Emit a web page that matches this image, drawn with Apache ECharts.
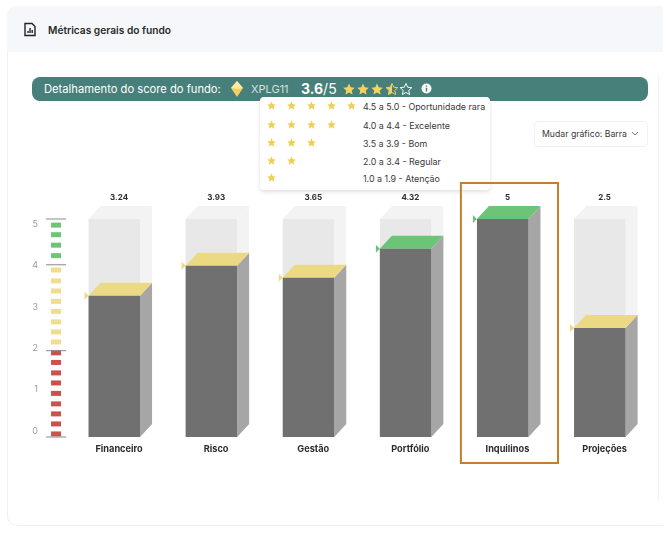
<!DOCTYPE html>
<html>
<head>
<meta charset="utf-8">
<script src="https://cdn.jsdelivr.net/npm/echarts@6/dist/echarts.min.js"></script>
<style>
  html, body { margin: 0; padding: 0; background: #fff; }
  body { width: 672px; height: 537px; position: relative; overflow: hidden; font-family: Inter, "Noto Sans", sans-serif; color: #2b2b2b; }
  .abs { position: absolute; white-space: nowrap; }
  #card { left: 7px; top: 6px; width: 656px; height: 520px; border: 1px solid #eff0f3; border-right: 0; border-radius: 10px 0 0 10px; box-sizing: border-box; }
  #cardHead { left: 7px; top: 6px; width: 656px; height: 46px; background: #f6f7fa; border-radius: 10px 0 0 0; }
  #title { left: 48px; top: 23px; font-size: 10.2px; font-weight: 600; line-height: 14px; }
  #innerLine { left: 658px; top: 75px; width: 1px; height: 425px; background: #f1f2f4; }
  #pill { left: 32px; top: 77px; width: 616px; height: 24px; background: #47807a; border-radius: 8px; }
  .onPill { color: #fff; line-height: 24px; top: 77px; }
  #dropdown { left: 534px; top: 121px; width: 114px; height: 26px; box-sizing: border-box; border: 1px solid #eff0f3; border-radius: 5px; font-size: 8.7px; line-height: 25px; padding-left: 7px; color: #3a3a3a; }
  #popup { left: 260px; top: 97px; width: 230px; height: 93px; background: #fff; border-radius: 4px; box-shadow: 0 2px 4px rgba(0,0,0,.12); }
  .rowText { left: 363px; font-size: 8.9px; line-height: 12px; color: #3a3a3a; }
  #chart { position: absolute; left: 0; top: 0; width: 672px; height: 537px; }
</style>
</head>
<body>
<div class="abs" id="card"></div>
<div class="abs" id="cardHead"></div>
<svg class="abs" style="left:23px;top:22px" width="14" height="15" viewBox="0 0 14 15" fill="none" stroke="#222" stroke-width="1.4">
  <path d="M2 1.5h7l3 3v9H2z"/><path d="M5 11V9M7 11V6M9.2 11V8"/>
</svg>
<div class="abs" id="title">Métricas gerais do fundo</div>
<div class="abs" id="innerLine"></div>

<div class="abs" id="pill"></div>
<div class="abs onPill" style="left:44px;font-size:11.2px">Detalhamento do score do fundo:</div>
<svg class="abs" style="left:231px;top:81px" width="12" height="16" viewBox="0 0 12 16">
  <path d="M6 0L12 7L6 16L0 7Z" fill="#f3cf5e"/><path d="M6 0L12 7L6 8L0 7Z" fill="#fbe9a6"/>
</svg>
<div class="abs onPill" style="left:251px;font-size:11px;opacity:.75">XPLG11</div>
<div class="abs onPill" style="left:301px;font-size:14px"><b>3.6</b>/5</div>
<div class="abs" id="scoreStars"></div>
<svg class="abs" style="left:421px;top:83px" width="11" height="11" viewBox="0 0 11 11">
  <circle cx="5.5" cy="5.5" r="5" fill="#fff"/><path d="M5.5 2.4v1.4M5.5 4.8v3.6" stroke="#47807a" stroke-width="1.5"/>
</svg>

<div class="abs" id="dropdown">Mudar gráfico: Barra</div>
<svg class="abs" style="left:631px;top:131px" width="8" height="6" viewBox="0 0 8 6" fill="none" stroke="#777">
  <path d="M1 1l3 3 3-3"/>
</svg>

<div class="abs" id="popup"></div>
<div id="popupRows"></div>
<div id="chart"></div>

<script>
// dados do gráfico
const categories = ['Financeiro', 'Risco', 'Gestão', 'Portfólio', 'Inquilinos', 'Projeções']
const scores = [3.24, 3.93, 3.65, 4.32, 5, 2.5]
const scoreMax = [5, 5, 5, 5, 5, 5]
const highlighted = ['Inquilinos']
const axisTicks = [0, 1, 2, 3, 4, 5]

// régua da esquerda
const redDashes = [0.07, 0.3, 0.53, 0.76, 1.0, 1.24, 1.47, 1.71, 1.93]
const yellowDashes = [2.18, 2.41, 2.64, 2.88, 3.11, 3.35, 3.58, 3.83]
const greenDashes = [4.16, 4.4, 4.64, 4.86]
const rulerLines = [0, 1.98, 3.95, 5]

// legenda das estrelas
const ratingLabels = ['4.5 a 5.0 - Oportunidade rara', '4.0 a 4.4 - Excelente', '3.5 a 3.9 - Bom', '2.0 a 3.4 - Regular', '1.0 a 1.9 - Atenção']
const ratingStars = [5, 4, 3, 2, 1]

const STAR = 'M5 0.4L6.4 3.5L9.8 3.9L7.3 6.2L8 9.6L5 7.9L2 9.6L2.7 6.2L0.2 3.9L3.6 3.5Z'

function starSvg(x, y, size, fill) {
  return `<svg class="abs" style="left:${x}px;top:${y}px" width="${size}" height="${size}" viewBox="0 0 10 10"><path d="${STAR}" fill="${fill}"/></svg>`
}

let popupHtml = ''
const rowY = [106, 125, 143, 161, 178]
ratingLabels.forEach((label, i) => {
  popupHtml += `<div class="abs rowText" style="top:${rowY[i] - 5}px">${label}</div>`
  for (let s = 0; s < ratingStars[i]; s++) {
    popupHtml += starSvg(267 + s * 20, rowY[i] - 5, 9, '#f0cf55')
  }
})
document.getElementById('popupRows').innerHTML = popupHtml

// 3.5 estrelas na barra
let starsHtml = ''
for (let s = 0; s < 5; s++) {
  const x = 343 + s * 14.2
  if (s < 3) {
    starsHtml += starSvg(x, 83, 12, '#f3d25f')
  } else if (s === 3) {
    starsHtml += `<svg class="abs" style="left:${x}px;top:83px" width="12" height="12" viewBox="0 0 10 10"><defs><clipPath id="half"><rect width="5" height="10"/></clipPath></defs><path d="${STAR}" fill="none" stroke="#f3d25f" stroke-width=".8"/><path d="${STAR}" fill="#f3d25f" clip-path="url(#half)"/></svg>`
  } else {
    starsHtml += `<svg class="abs" style="left:${x}px;top:83px" width="12" height="12" viewBox="0 0 10 10"><path d="${STAR}" fill="none" stroke="#fff" stroke-width=".8"/></svg>`
  }
}
document.getElementById('scoreStars').innerHTML = starsHtml

const BAR_W = 51.5
const BAR_SHIFT = 30.5
const DEPTH_X = 12
const DEPTH_Y = 13

function topColor(v) {
  if (v >= 4) return '#6cc576'
  if (v >= 2) return '#ecd983'
  return '#c9534c'
}

function prism(x, yTop, yBase, front, side, top) {
  const poly = (points, fill) => ({ type: 'polygon', shape: { points }, style: { fill }, silent: true })
  return [
    poly([[x + BAR_W, yBase], [x + BAR_W + DEPTH_X, yBase - DEPTH_Y], [x + BAR_W + DEPTH_X, yTop - DEPTH_Y], [x + BAR_W, yTop]], side),
    poly([[x, yTop], [x + DEPTH_X, yTop - DEPTH_Y], [x + BAR_W + DEPTH_X, yTop - DEPTH_Y], [x + BAR_W, yTop]], top),
    { type: 'rect', shape: { x, y: yTop, width: BAR_W, height: yBase - yTop }, style: { fill: front }, silent: true },
  ]
}

function renderGhost(params, api) {
  const p = api.coord([api.value(0), api.value(1)])
  const base = api.coord([api.value(0), 0])
  return { type: 'group', children: prism(p[0] - BAR_SHIFT, p[1], base[1], '#e8e8e8', '#f3f3f3', '#f3f3f3') }
}

function renderBar(params, api) {
  const v = api.value(1)
  const p = api.coord([api.value(0), v])
  const base = api.coord([api.value(0), 0])
  const x = p[0] - BAR_SHIFT
  const color = topColor(v)
  const children = prism(x, p[1], base[1], '#707070', '#a6a6a6', color)
  children.push({
    type: 'polygon',
    shape: { points: [[x - 4, p[1] - 4], [x, p[1]], [x - 4, p[1] + 4]] },
    style: { fill: color },
    silent: true,
  })
  children.push({
    type: 'text',
    style: {
      x: p[0],
      y: api.coord([api.value(0), 5])[1] - 21,
      text: String(v),
      textAlign: 'center',
      textVerticalAlign: 'middle',
      font: 'bold 8px Inter',
      fill: '#2b2b2b',
    },
    silent: true,
  })
  return { type: 'group', children }
}

function renderHighlight(params, api) {
  const p = api.coord([api.value(0), api.value(1)])
  const base = api.coord([api.value(0), 0])
  const band = api.size([1, 0])[0]
  return {
    type: 'rect',
    shape: { x: p[0] - band / 2 + 2, y: p[1] - 36, width: band, height: base[1] - p[1] + 62 },
    style: { fill: 'none', stroke: '#c17f2f', lineWidth: 2 },
    silent: true,
  }
}

function rulerDash(color) {
  return function (params, api) {
    const p = api.coord([0, api.value(1)])
    return { type: 'rect', shape: { x: p[0] - 68, y: p[1] - 2.5, width: 10, height: 5 }, style: { fill: color }, silent: true }
  }
}

function renderRulerLine(params, api) {
  const p = api.coord([0, api.value(1)])
  return { type: 'line', shape: { x1: p[0] - 73, y1: p[1], x2: p[0] - 53, y2: p[1] }, style: { stroke: '#8a8a8a', lineWidth: 1 }, silent: true }
}

function customSeries(renderItem, values, z) {
  return {
    type: 'custom',
    renderItem,
    z,
    silent: true,
    encode: { x: 0, y: 1 },
    data: values,
  }
}

const barPairs = vals => vals.map((v, i) => [i, v])
const rulerPairs = vals => vals.map(v => [0, v])

const chart = echarts.init(document.getElementById('chart'), null, { renderer: 'canvas' })
chart.setOption({
  animation: false,
  backgroundColor: 'transparent',
  grid: [
    { left: 70.5, top: 219, width: 582.6, height: 218 },
    { left: 40, top: 224, width: 10, height: 207 },
  ],
  xAxis: [
    {
      type: 'category',
      data: categories,
      gridIndex: 0,
      axisLine: { show: false },
      axisTick: { show: false },
      axisLabel: { interval: 0, margin: 8, fontFamily: 'Inter', fontSize: 9.2, fontWeight: 'bold', color: '#2b2b2b' },
    },
    { type: 'value', gridIndex: 1, show: false },
  ],
  yAxis: [
    { type: 'value', min: 0, max: 5, interval: 1, gridIndex: 0, show: false },
    {
      type: 'value',
      min: 0,
      max: 5,
      interval: 1,
      gridIndex: 1,
      axisLine: { show: false },
      axisTick: { show: false },
      splitLine: { show: false },
      axisLabel: { margin: 2, fontFamily: 'Inter', fontSize: 9, color: '#9a9a9a' },
    },
  ],
  series: [
    customSeries(renderGhost, barPairs(scoreMax), 1),
    customSeries(renderBar, barPairs(scores), 2),
    customSeries(renderHighlight, highlighted.map(c => [categories.indexOf(c), 5]), 3),
    customSeries(rulerDash('#c9534c'), rulerPairs(redDashes), 2),
    customSeries(rulerDash('#f0dd8f'), rulerPairs(yellowDashes), 2),
    customSeries(rulerDash('#6cc576'), rulerPairs(greenDashes), 2),
    customSeries(renderRulerLine, rulerPairs(rulerLines), 3),
  ],
})
</script>
</body>
</html>
